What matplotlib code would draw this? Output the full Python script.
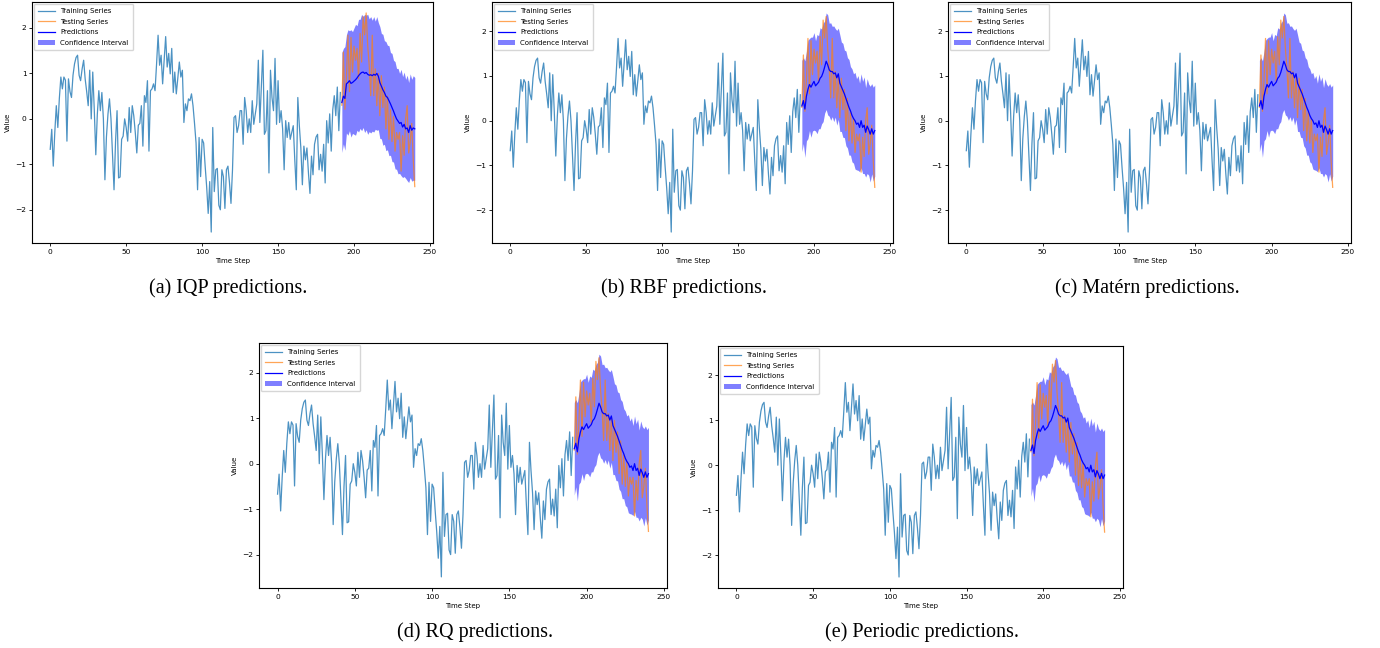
import matplotlib
matplotlib.use('Agg')
import matplotlib.pyplot as plt
import numpy as np

# training part of the series, t = 0 .. 191
train_values = [
    -0.67, -0.23, -1.04, -0.30, 0.29, -0.19, 0.45, 0.92, 0.66, 0.92,
    0.85, -0.49, 0.88, 0.60, 0.47, 0.96, 1.21, 1.35, 1.40, 0.96,
    0.84, 1.10, 1.29, 0.88, 0.60, 0.29, 1.07, 0.00, 1.03, 0.20,
    -0.79, 0.10, 0.62, 0.18, 0.58, 0.00, -1.34, -0.40, 0.10, 0.44,
    0.00, -0.80, -1.56, -0.50, 0.18, -1.30, -1.28, -0.45, -0.38, 0.00,
    -0.19, -0.49, 0.25, -0.30, 0.29, 0.07, -0.30, -0.75, -0.14, -0.10,
    0.29, -0.60, 0.51, 0.36, 0.84, -0.71, 0.62, 0.66, 0.77, 0.62,
    1.20, 1.84, 1.18, 1.40, 0.77, 1.30, 1.81, 1.14, 1.44, 0.99,
    1.55, 0.58, 1.03, 0.55, 0.90, 1.25, 0.92, 1.07, -0.08, 0.33,
    0.18, 0.44, 0.40, 0.55, 0.29, -0.10, -0.53, -1.56, -0.41, -1.27,
    -0.45, -0.53, -1.04, -1.50, -2.08, -1.38, -2.49, -0.19, -1.60, -1.12,
    -1.09, -1.90, -2.00, -1.12, -1.27, -1.97, -1.12, -1.04, -1.40, -1.86,
    -1.12, 0.03, 0.07, -0.30, -0.15, 0.18, 0.18, -0.56, 0.47, 0.18,
    -0.30, 0.00, -0.30, 0.40, -0.12, 0.10, 0.33, 1.29, -0.08, 0.70,
    1.51, -0.34, -0.26, 0.62, -1.19, 1.07, 0.47, 0.18, 1.33, -0.12,
    0.84, -0.08, 0.18, -0.22, -1.12, -0.04, -0.41, -0.08, -0.45, -0.30,
    -0.15, -0.90, -1.56, 0.47, -0.15, -0.64, -1.45, -0.60, -0.90, -0.64,
    -1.19, -1.64, -0.82, -1.23, -0.56, -0.40, -0.34, -1.12, -0.78, -1.15,
    -0.56, -1.41, -0.04, -0.53, 0.11, -0.71, 0.20, 0.51, 0.07, 0.70,
    -0.26, 0.58,
]

# testing part, t = 192 .. 240
test_values = [
    0.30, 1.47, 0.21, 0.90, 1.84, 0.60, 1.79, 1.03, 1.60, 1.29,
    1.55, 0.88, 1.88, 1.25, 2.25, 1.85, 2.33, 1.62, 1.18, 0.51,
    1.84, 0.51, 1.10, 0.29, 1.00, 0.07, 0.95, 0.25, 0.70, -0.22,
    0.50, -0.45, 0.20, -0.50, 0.05, -0.71, -0.30, -0.45, -0.30, -1.15,
    -0.37, -0.80, 0.00, 0.29, -0.75, -0.50, -0.10, -0.90, -1.49,
]

# IQP kernel: mean and half width of the interval
iqp_mean = [
    0.36, 0.50, 0.45, 0.77, 0.80, 0.84, 0.78, 0.80, 0.83, 0.86,
    0.90, 0.95, 0.99, 1.02, 1.03, 1.00, 1.02, 0.98, 0.96, 0.97,
    0.95, 0.98, 0.96, 1.00, 0.94, 0.80, 0.72, 0.64, 0.58, 0.50,
    0.47, 0.40, 0.33, 0.25, 0.17, 0.08, 0.00, -0.05, -0.10, -0.08,
    -0.18, -0.12, -0.22, -0.20, -0.30, -0.15, -0.25, -0.20, -0.22,
]
iqp_width = [
    1.10, 1.05, 1.14, 1.08, 1.16, 1.10, 1.18, 1.12, 1.17, 1.22,
    1.15, 1.24, 1.20, 1.28, 1.22, 1.30, 1.26, 1.32, 1.24, 1.28,
    1.22, 1.27, 1.19, 1.25, 1.18, 1.23, 1.16, 1.22, 1.14, 1.20,
    1.15, 1.21, 1.13, 1.19, 1.12, 1.18, 1.11, 1.16, 1.10, 1.17,
    1.11, 1.15, 1.09, 1.16, 1.10, 1.14, 1.12, 1.15, 1.13,
]

# the classical kernels give nearly the same curve
rbf_mean = [
    0.33, 0.45, 0.26, 0.55, 0.70, 0.81, 0.75, 0.82, 0.88, 0.78,
    0.82, 0.86, 0.95, 0.99, 1.08, 1.20, 1.33, 1.25, 1.14, 1.10,
    1.10, 1.05, 1.07, 0.96, 1.05, 0.84, 0.76, 0.68, 0.60, 0.50,
    0.40, 0.30, 0.22, 0.12, 0.05, 0.00, -0.08, -0.05, -0.15, 0.00,
    -0.15, -0.10, -0.26, -0.12, -0.20, -0.30, -0.18, -0.30, -0.22,
]
rbf_width = [
    1.02, 0.96, 1.08, 1.00, 1.10, 1.03, 1.12, 1.05, 1.09, 1.01,
    1.11, 1.04, 1.13, 1.06, 1.10, 1.03, 1.08, 1.12, 1.04, 1.09,
    1.01, 1.07, 0.99, 1.06, 1.02, 1.08, 1.00, 1.05, 0.98, 1.06,
    1.01, 1.07, 0.99, 1.04, 1.00, 1.08, 1.02, 1.06, 0.99, 1.05,
    1.03, 1.08, 1.00, 1.06, 1.02, 1.07, 1.01, 1.05, 1.02,
]

captions = [
    '(a) IQP predictions.', '(b) RBF predictions.', '(c) Matérn predictions.',
    '(d) RQ predictions.', '(e) Periodic predictions.',
]
means = [iqp_mean, rbf_mean, rbf_mean, rbf_mean, rbf_mean]
widths = [iqp_width, rbf_width, rbf_width, rbf_width, rbf_width]

# axes boxes in pixels: left, top, right, bottom
boxes = [
    (32, 2, 433, 243),
    (492, 2, 893, 243),
    (948, 2, 1351, 243),
    (259, 343, 667, 588),
    (718, 346, 1123, 588),
]
caption_pos = [(228, 288), (684, 288), (1147, 288), (475, 632), (922, 632)]

W, H = 1380, 648


def plot_panel(ax, mean, width):
    t_train = np.arange(len(train_values))
    t_test = np.arange(len(train_values), len(train_values) + len(test_values))
    mean = np.array(mean)
    width = np.array(width)
    ax.plot(t_train, train_values, color='#1f77b4', alpha=0.8, lw=0.9, label='Training Series')
    ax.plot(t_test, test_values, color='#ff7f0e', alpha=0.7, lw=0.9, label='Testing Series')
    ax.plot(t_test, mean, color='blue', lw=0.9, label='Predictions')
    ax.fill_between(t_test, mean - width, mean + width, color='blue', alpha=0.5,
                    lw=0, label='Confidence Interval')
    ax.set_xlabel('Time Step', fontsize=5, labelpad=2.5)
    ax.set_ylabel('Value', fontsize=5, labelpad=3)
    ax.set_xticks([0, 50, 100, 150, 200, 250])
    ax.set_yticks([-2, -1, 0, 1, 2])
    ax.tick_params(labelsize=5.4, length=2, width=0.6, pad=2)
    for s in ax.spines.values():
        s.set_linewidth(0.8)
    ax.legend(loc='upper left', fontsize=5, handlelength=2.4, borderaxespad=0.3,
              borderpad=0.6, labelspacing=0.65, framealpha=0.8)


fig = plt.figure(figsize=(W / 100, H / 100), dpi=100)
for i in range(5):
    l, t, r, b = boxes[i]
    ax = fig.add_axes([l / W, 1 - b / H, (r - l) / W, (b - t) / H])
    plot_panel(ax, means[i], widths[i])
    cx, cy = caption_pos[i]
    fig.text(cx / W, 1 - cy / H, captions[i], ha='center', va='center',
             fontsize=14.5, family='Liberation Serif')

fig.savefig('out.png', dpi=100)
